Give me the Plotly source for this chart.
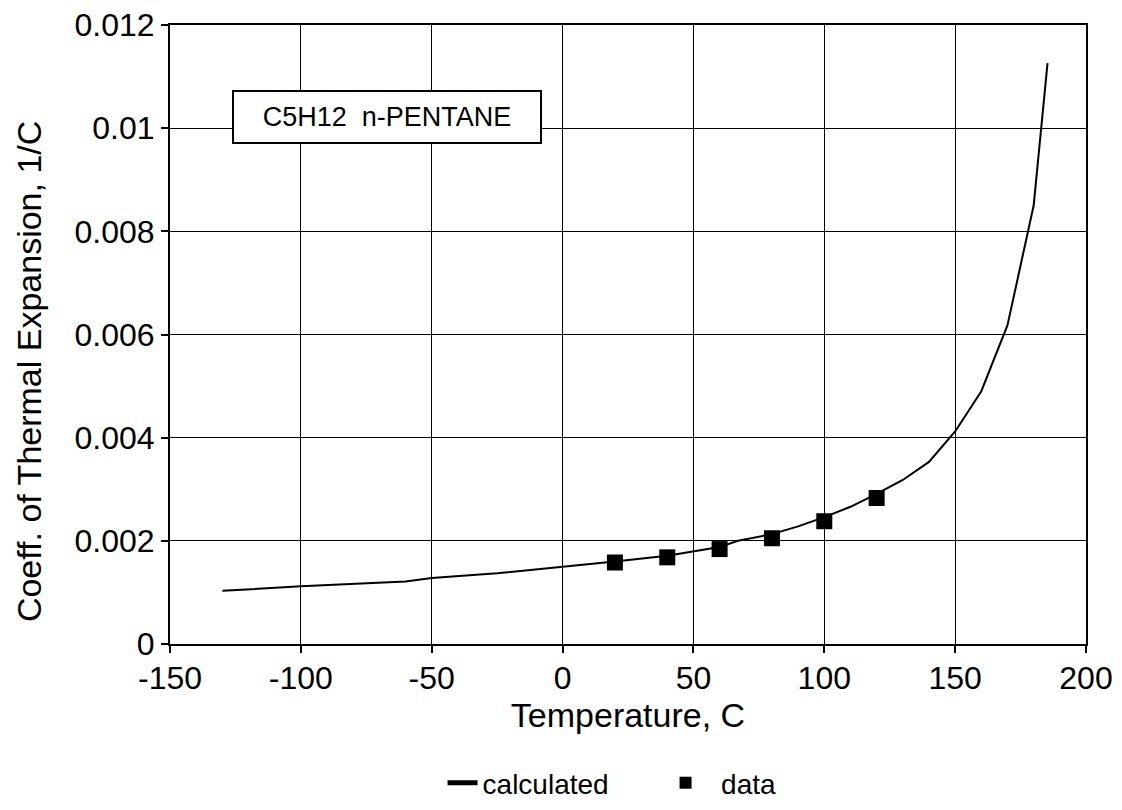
import plotly.graph_objects as go

# Calculated curve: coefficient of thermal expansion of n-pentane vs temperature
calc_temp = [-130, -100, -60, -50, -25, 0, 20, 40, 50, 60, 67, 80, 90, 100,
             110, 120, 130, 140, 150, 160, 170, 180, 185.3]
calc_alpha = [0.00103, 0.00112, 0.00121, 0.00128, 0.00137, 0.00149, 0.00160,
              0.00171, 0.00179, 0.00188, 0.00200, 0.00213, 0.00228, 0.00246,
              0.00266, 0.00291, 0.00318, 0.00353, 0.00412, 0.00490, 0.00618,
              0.00850, 0.01126]

# Measured points
data_temp = [20, 40, 60, 80, 100, 120]
data_alpha = [0.00158, 0.00168, 0.00184, 0.00205, 0.00238, 0.00283]

x_ticks = [-150, -100, -50, 0, 50, 100, 150, 200]
x_tick_text = ["-150", "-100", "-50", "0", "50", "100", "150", "200"]
y_ticks = [0, 0.002, 0.004, 0.006, 0.008, 0.01, 0.012]
y_tick_text = ["0", "0.002", "0.004", "0.006", "0.008", "0.01", "0.012"]

FONT = "Liberation Sans, Arial, Helvetica, sans-serif"

fig = go.Figure()
fig.add_trace(go.Scatter(
    x=calc_temp, y=calc_alpha, mode="lines", name="calculated",
    line=dict(color="black", width=2),
))
fig.add_trace(go.Scatter(
    x=data_temp, y=data_alpha, mode="markers", name="\u00a0\u00a0data",
    marker=dict(symbol="square", size=16, color="black"),
))

# Substance label box
fig.add_annotation(
    x=-66.9, y=0.010226, xref="x", yref="y",
    text="C5H12  n-PENTANE", showarrow=False,
    font=dict(family=FONT, size=27, color="black"),
    bgcolor="white", bordercolor="black", borderwidth=2,
    width=296, height=40, borderpad=5,
)

# Vertical axis title
fig.add_annotation(
    x=-0.1545, y=0.44, xref="paper", yref="paper",
    xanchor="center", yanchor="middle", textangle=-90,
    text="Coeff. of Thermal Expansion, 1/C", showarrow=False,
    font=dict(family=FONT, size=34, color="black"),
)

axis_common = dict(
    showline=True, linecolor="black", linewidth=2, mirror=True,
    showgrid=True, gridcolor="black", gridwidth=1,
    ticks="outside", ticklen=7, tickwidth=1.5, tickcolor="black",
    zeroline=False, automargin=False,
    tickfont=dict(family=FONT, size=32, color="black"),
)

fig.update_layout(
    width=1122, height=810,
    margin=dict(l=170, r=36, t=25, b=166),
    paper_bgcolor="white", plot_bgcolor="white",
    font=dict(family=FONT, color="black"),
    xaxis=dict(
        range=[-150, 200], tickmode="array", tickvals=x_ticks, ticktext=x_tick_text,
        ticklabelstandoff=-2,
        title=dict(text="Temperature, C", font=dict(family=FONT, size=34), standoff=6),
        **axis_common,
    ),
    yaxis=dict(
        range=[0, 0.012], tickmode="array", tickvals=y_ticks, ticktext=y_tick_text,
        **axis_common,
    ),
    legend=dict(
        orientation="h", x=0.5410, xanchor="center",
        y=0.0333, yanchor="middle", yref="container",
        font=dict(family=FONT, size=28, color="black"),
        itemsizing="constant", bgcolor="rgba(0,0,0,0)",
        entrywidth=178, entrywidthmode="pixels",
    ),
    showlegend=True,
)

fig.write_html("out.html")
